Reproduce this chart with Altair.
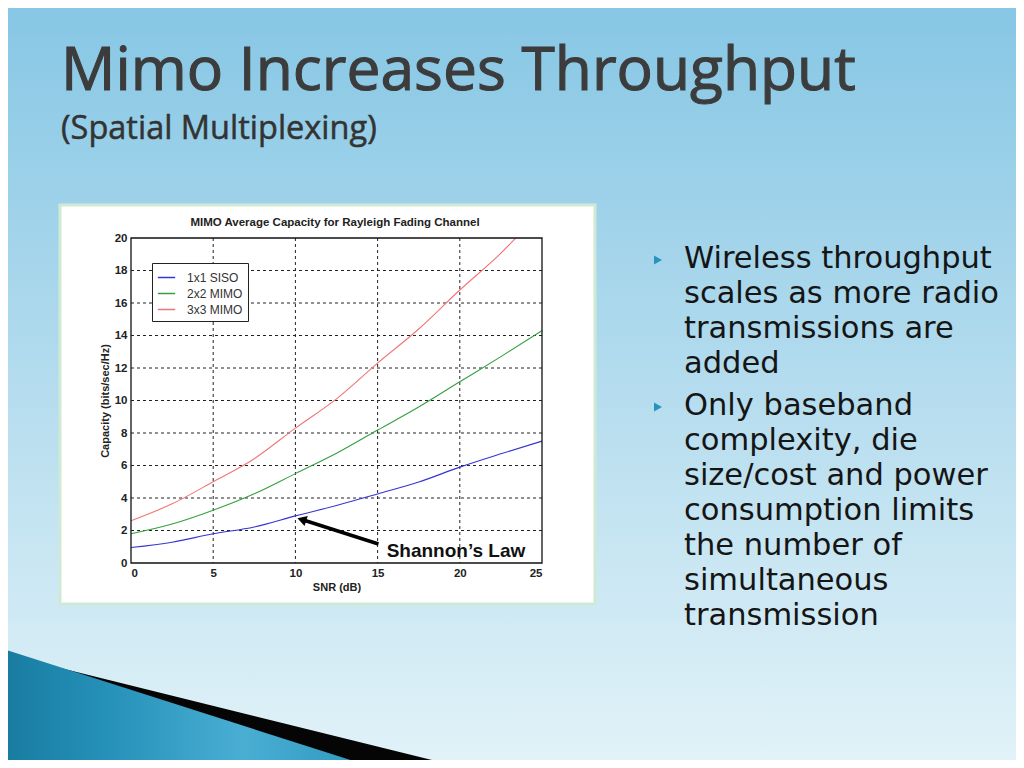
import math
import altair as alt
import pandas as pd

# ---------------- data ----------------
snr_db = [0, 2.5, 5, 7.5, 10, 12.5, 15, 17.5, 20, 22.5, 25]
siso_1x1 = [0.95, 1.28, 1.8, 2.22, 2.9, 3.54, 4.25, 4.98, 5.9, 6.72, 7.5]
mimo_2x2 = [1.8, 2.4, 3.25, 4.26, 5.5, 6.75, 8.18, 9.6, 11.15, 12.7, 14.3]
snr_db_3x3 = [0, 2.5, 5, 7.5, 10, 12.5, 15, 17.5, 20, 22.5, 23.4]
mimo_3x3 = [2.6, 3.64, 5.0, 6.42, 8.3, 10.1, 12.3, 14.4, 16.8, 19.07, 20.0]

series_names = ["1x1 SISO", "2x2 MIMO", "3x3 MIMO"]
series_colors = ["#3535d4", "#34a03e", "#f27575"]

x_grid = [5, 10, 15, 20]
y_grid = [2, 4, 6, 8, 10, 12, 14, 16, 18]
x_ticks = [0, 5, 10, 15, 20, 25]
y_ticks = [0, 2, 4, 6, 8, 10, 12, 14, 16, 18, 20]

chart_title = "MIMO Average Capacity for Rayleigh Fading Channel"
x_title = "SNR (dB)"
y_title = "Capacity (bits/sec/Hz)"

annot_text = "Shannon\u2019s Law"
annot_pos = [15.55, 0.39]
arrow_tail = [15.05, 1.17]
arrow_head = [10.1, 2.77]

slide_title = "Mimo Increases Throughput"
slide_subtitle = "(Spatial Multiplexing)"
bullet_1 = ["Wireless throughput", "scales as more radio", "transmissions are", "added"]
bullet_2 = ["Only baseband", "complexity, die", "size/cost and power",
            "consumption limits", "the number of", "simultaneous", "transmission"]

# ---------------- layout ----------------
W, H = 411, 325          # plot area
PX, PY = 131, 238        # page position of plot origin
PAGE_W, PAGE_H = 1008, 752


def px(x):
    return x - PX


def py(y):
    return y - PY


one = pd.DataFrame({"k": [0]})

rows = []
for name, xs, ys in zip(series_names, [snr_db, snr_db, snr_db_3x3], [siso_1x1, mimo_2x2, mimo_3x3]):
    for a, b in zip(xs, ys):
        rows.append({"snr": a, "cap": b, "series": name})
curves = pd.DataFrame(rows)

xscale = alt.Scale(domain=[0, 25], nice=False, zero=False)
yscale = alt.Scale(domain=[0, 20], nice=False, zero=False)
xaxis = alt.Axis(values=x_ticks, title=x_title, grid=False, domain=False, ticks=False,
                 labelPadding=4, titlePadding=3, zindex=1, format="d")
yaxis = alt.Axis(values=y_ticks, title=y_title, grid=False, domain=False, ticks=False,
                 labelPadding=4, titlePadding=4, zindex=1, format="d")

# ---------------- slide background ----------------
bg = alt.Chart(one).mark_rect(
    fill=alt.LinearGradient(gradient="linear", x1=0, x2=0, y1=0, y2=1,
                            stops=[alt.GradientStop(color="#87c7e5", offset=0),
                                   alt.GradientStop(color="#b4dcee", offset=0.5),
                                   alt.GradientStop(color="#e1f2f8", offset=1)])
).encode(x=alt.value(px(8)), x2=alt.value(px(8 + PAGE_W)),
         y=alt.value(py(8)), y2=alt.value(py(8 + PAGE_H)))

band = alt.Chart(one).mark_rule(stroke="#bad9e7", strokeWidth=40, strokeCap="butt").encode(
    x=alt.value(px(-3)), y=alt.value(py(676)), x2=alt.value(px(697)), y2=alt.value(py(893)))

black = alt.Chart(one).mark_rule(stroke="#050505", strokeWidth=40, strokeCap="butt").encode(
    x=alt.value(px(-55)), y=alt.value(py(660)), x2=alt.value(px(595)), y2=alt.value(py(821)))

teal = alt.Chart(one).mark_rule(
    stroke=alt.LinearGradient(gradient="linear", x1=0, x2=1, y1=0, y2=0,
                              stops=[alt.GradientStop(color="#0d6a8a", offset=0),
                                     alt.GradientStop(color="#2590b8", offset=0.35),
                                     alt.GradientStop(color="#4aaed3", offset=0.6),
                                     alt.GradientStop(color="#1a86ad", offset=1)]),
    strokeWidth=240, strokeCap="butt"
).encode(x=alt.value(px(-87)), y=alt.value(py(746)), x2=alt.value(px(463)), y2=alt.value(py(922)))

# ---------------- slide texts ----------------
title_t = alt.Chart(one).mark_text(
    text=slide_title, font="Open Sans", fontSize=60.5, color="#3c3c3c",
    stroke="#3c3c3c", strokeWidth=1.1,
    align="left", baseline="alphabetic"
).encode(x=alt.value(px(61)), y=alt.value(py(90)))

subtitle_t = alt.Chart(one).mark_text(
    text=slide_subtitle, font="Open Sans", fontSize=32.5, color="#333333",
    stroke="#333333", strokeWidth=0.5,
    align="left", baseline="alphabetic"
).encode(x=alt.value(px(61)), y=alt.value(py(139)))

bul1 = alt.Chart(one).mark_text(
    text=bullet_1, font="DejaVu Sans", fontSize=30.5, lineHeight=35,
    color="#151515", align="left", baseline="alphabetic"
).encode(x=alt.value(px(684)), y=alt.value(py(268)))

bul2 = alt.Chart(one).mark_text(
    text=bullet_2, font="DejaVu Sans", fontSize=30.5, lineHeight=35,
    color="#151515", align="left", baseline="alphabetic"
).encode(x=alt.value(px(684)), y=alt.value(py(415)))

mk1 = alt.Chart(one).mark_point(shape="triangle-right", filled=True, size=85,
                                color="#2894bd", opacity=1).encode(
    x=alt.value(px(658)), y=alt.value(py(260)))
mk2 = alt.Chart(one).mark_point(shape="triangle-right", filled=True, size=85,
                                color="#2894bd", opacity=1).encode(
    x=alt.value(px(658)), y=alt.value(py(407)))

# ---------------- figure box ----------------
box = alt.Chart(one).mark_rect(fill="white", stroke="#cfe9d5", strokeWidth=3).encode(
    x=alt.value(px(60)), x2=alt.value(px(595)), y=alt.value(py(205)), y2=alt.value(py(604)))

ctitle = alt.Chart(one).mark_text(
    text=chart_title, font="Liberation Sans", fontWeight="bold", fontSize=11.5,
    color="#222222", align="center", baseline="middle"
).encode(x=alt.value(px(335)), y=alt.value(py(223)))

# ---------------- plot ----------------
gx = alt.Chart(pd.DataFrame({"g": x_grid})).mark_rule(
    color="#222222", strokeWidth=1, strokeDash=[3, 3]
).encode(x=alt.X("g:Q", scale=xscale, axis=xaxis))

gy = alt.Chart(pd.DataFrame({"g": y_grid})).mark_rule(
    color="#222222", strokeWidth=1, strokeDash=[3, 3]
).encode(y=alt.Y("g:Q", scale=yscale, axis=yaxis))

lines = alt.Chart(curves).mark_line(strokeWidth=1.1, interpolate="monotone").encode(
    x=alt.X("snr:Q", scale=xscale, axis=xaxis),
    y=alt.Y("cap:Q", scale=yscale, axis=yaxis),
    color=alt.Color("series:N",
                    scale=alt.Scale(domain=series_names, range=series_colors),
                    legend=alt.Legend(title=None, orient="none", legendX=21, legendY=25,
                                      fillColor="white", strokeColor="#222222",
                                      padding=5, symbolType="stroke", symbolSize=300,
                                      symbolStrokeWidth=1.5, labelFont="Liberation Sans",
                                      labelFontSize=12, labelColor="#333333",
                                      labelOffset=11, rowPadding=-5, zindex=1)),
)

frame = alt.Chart(one).mark_rect(filled=False, stroke="#111111", strokeWidth=1.3).encode(
    x=alt.value(0), x2=alt.value(W), y=alt.value(0), y2=alt.value(H))

# arrow
sx, sy = W / 25.0, H / 20.0
dxp = (arrow_head[0] - arrow_tail[0]) * sx
dyp = -(arrow_head[1] - arrow_tail[1]) * sy
L = math.hypot(dxp, dyp)
ux, uy = dxp / L, dyp / L
back = 5.0
cx = arrow_head[0] - back * ux / sx
cy = arrow_head[1] + back * uy / sy
ang = math.degrees(math.atan2(ux, -uy)) % 360

arrow_df = pd.DataFrame({"x0": [arrow_tail[0]], "y0": [arrow_tail[1]], "x1": [cx], "y1": [cy]})
arrow_line = alt.Chart(arrow_df).mark_rule(color="black", strokeWidth=3.5).encode(
    x=alt.X("x0:Q", scale=xscale, axis=xaxis), y=alt.Y("y0:Q", scale=yscale, axis=yaxis),
    x2="x1:Q", y2="y1:Q")
arrow_tip = alt.Chart(arrow_df).mark_point(shape="triangle-up", filled=True, size=110,
                                           color="black", opacity=1, angle=ang).encode(
    x=alt.X("x1:Q", scale=xscale, axis=xaxis), y=alt.Y("y1:Q", scale=yscale, axis=yaxis))

annot_df = pd.DataFrame({"x": [annot_pos[0]], "y": [annot_pos[1]], "t": [annot_text]})
annot = alt.Chart(annot_df).mark_text(
    font="Liberation Sans", fontWeight="bold", fontSize=19, color="#111111",
    align="left", baseline="alphabetic"
).encode(x=alt.X("x:Q", scale=xscale, axis=xaxis), y=alt.Y("y:Q", scale=yscale, axis=yaxis),
         text="t:N")

chart = alt.layer(
    bg, band, black, teal,
    title_t, subtitle_t, mk1, mk2, bul1, bul2,
    box, ctitle,
    gx, gy, lines, frame, arrow_line, arrow_tip, annot
).properties(
    width=W, height=H,
    padding={"left": PX - 8, "top": PY - 8, "right": PAGE_W - (PX - 8) - W,
             "bottom": PAGE_H - (PY - 8) - H},
    autosize=alt.AutoSizeParams(type="none"),
    background="#e1f2f8",
).configure_view(strokeWidth=0).configure_axis(
    labelFont="Liberation Sans", labelFontWeight="bold", labelFontSize=11.5, labelColor="#222222",
    titleFont="Liberation Sans", titleFontWeight="bold", titleFontSize=11, titleColor="#222222",
)

chart.save("out.html", embed_options={"renderer": "svg", "actions": False})
